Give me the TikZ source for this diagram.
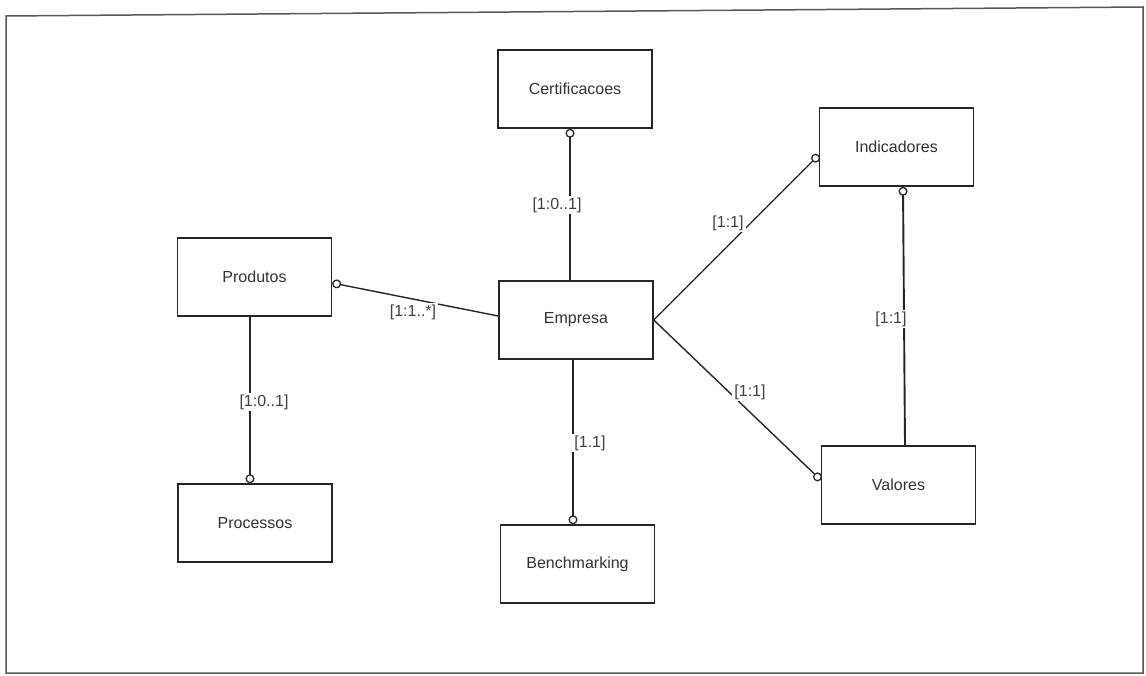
\documentclass[tikz,border=0pt]{standalone}
\usepackage{fontspec}
\setmainfont{Liberation Sans}
\usetikzlibrary{arrows.meta}
\begin{document}
\begin{tikzpicture}[x=1pt,y=-1pt,
  entity/.style={draw=black!85, line width=1.5pt, fill=white,
    minimum width=154pt, minimum height=78pt, inner sep=0pt,
    font=\fontsize{16}{19}\selectfont, text=black!80},
  rel/.style={draw=black!85, line width=1.4pt},
  heavy/.style={line width=1.9pt},
  opt/.style={rel, -{Circle[open, length=9pt, width=9pt, line width=1.3pt]}},
  card/.style={fill=white, inner sep=2pt, font=\fontsize{16}{19}\selectfont, text=black!75},
  frame/.style={draw=black!65, line width=1.5pt}]
\useasboundingbox (0,0) rectangle (1146,676);
\draw[frame] (6,16) -- (1143,7) -- (1143,673) -- (6,673) -- cycle;

% entities
\node[entity] (cert)  at (575,89)    {Certificacoes};
\node[entity] (ind)   at (896.5,147) {Indicadores};
\node[entity] (prod)  at (254.5,277) {Produtos};
\node[entity] (emp)   at (576,320)   {Empresa};
\node[entity] (val)   at (898.5,485) {Valores};
\node[entity] (proc)  at (255,523)   {Processos};
\node[entity] (bench) at (577.5,564) {Benchmarking};

% relationships
\draw[opt] ([xshift=-6pt]emp.north) -- ([xshift=-5pt]cert.south);
\draw[opt] (emp.east) -- ([yshift=-8pt]ind.west);
\draw[opt] (emp.east) -- ([yshift=5pt]val.west);
\draw[opt, heavy] ([xshift=6.5pt]val.north) -- ([xshift=6.5pt]ind.south);
\draw[opt] ([yshift=4pt]emp.west) -- ([yshift=-6pt]prod.east);
\draw[opt, heavy] ([xshift=-4.5pt]prod.south) -- ([xshift=-5pt]proc.north);
\draw[opt] ([xshift=-3pt]emp.south) -- ([xshift=-4.5pt]bench.north);

% cardinalities
\node[card] (c1) at (557,205) {[1:0..1]};
\node[card] (c2) at (728,223) {[1:1]};
\node[card] (c3) at (413,312) {[1:1..*]};
\node[card] (c4) at (891,319) {[1:1]};
\node[card] (c5) at (750,392) {[1:1]};
\node[card] (c6) at (264,402) {[1:0..1]};
\node[card] (c7) at (590,443) {[1.1]};
\end{tikzpicture}
\end{document}
